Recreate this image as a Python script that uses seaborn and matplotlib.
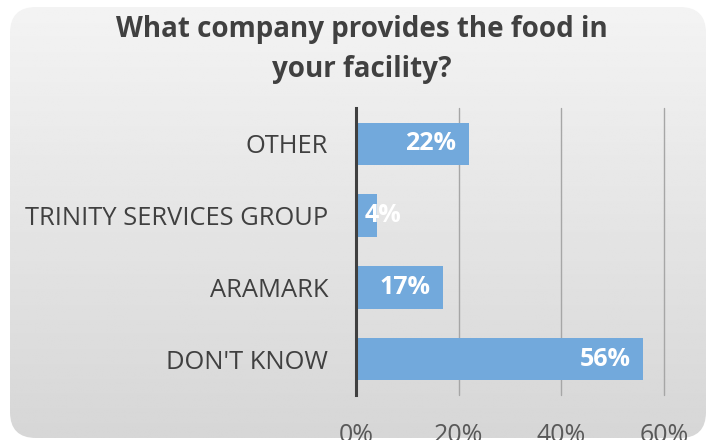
import numpy as np
import pandas as pd
import matplotlib
matplotlib.use("Agg")
import matplotlib.pyplot as plt
import seaborn as sns
from matplotlib.patches import FancyBboxPatch

categories = ["OTHER", "TRINITY SERVICES GROUP", "ARAMARK", "DON'T KNOW"]
values = [22, 4, 17, 56]
xticks = [0, 20, 40, 60]
xticklabels = ["0%", "20%", "40%", "60%"]
title = "What company provides the food in\nyour facility?"

sns.set_theme(style="white")
plt.rcParams['font.family'] = ['Open Sans', 'DejaVu Sans']

W, H = 712, 440
fig = plt.figure(figsize=(W / 100, H / 100), dpi=100)
fig.patch.set_facecolor("white")

# background rounded gradient panel
bg = fig.add_axes([0, 0, 1, 1])
bg.set_xlim(0, W)
bg.set_ylim(H, 0)
bg.axis("off")
grad = np.linspace(0.955, 0.84, 200)[:, None] * np.ones((1, 10))
im = bg.imshow(grad, cmap="gray", vmin=0, vmax=1, extent=[0, W, H, 0], aspect="auto")
panel = FancyBboxPatch((10, 7), 696, 431, boxstyle="round,pad=0,rounding_size=26",
                       transform=bg.transData, facecolor="none", edgecolor="none")
bg.add_patch(panel)
im.set_clip_path(panel)

df = pd.DataFrame({"category": categories, "value": values})

ax = fig.add_axes([356 / W, 1 - 395 / H, (664 - 356) / W, (395 - 108) / H])
ax.patch.set_alpha(0)
sns.barplot(data=df, x="value", y="category", orient="h", color="#72a9dc",
            saturation=1, width=0.59, linewidth=0, ax=ax)
ax.set_xlim(0, 60)
ax.set_xticks(xticks)
ax.set_xticklabels(xticklabels)
ax.set_xlabel("")
ax.set_ylabel("")
ax.grid(axis="x", color="#a6a6a6", linewidth=1)
for gl in ax.get_xgridlines():
    gl.set_clip_on(False)
ax.set_axisbelow(True)
for s in ["top", "right", "bottom"]:
    ax.spines[s].set_visible(False)
ax.spines["left"].set_color("#404040")
ax.spines["left"].set_linewidth(2.2)
ax.tick_params(axis="y", length=0, pad=20, labelsize=18.4, labelcolor="#404040")
ax.tick_params(axis="x", length=0, pad=20, labelsize=18, labelcolor="#595959")

for i, v in enumerate(values):
    if v >= 10:
        ax.annotate(f"{v}%", xy=(v, i), xytext=(-9, 0), textcoords="offset points",
                    ha="right", va="center", color="white", fontsize=18, fontweight="bold")
    else:
        ax.annotate(f"{v}%", xy=(0, i), xytext=(6, 0), textcoords="offset points",
                    ha="left", va="center", color="white", fontsize=18, fontweight="bold")

fig.text(362 / W, 1 - 49 / H, title, ha="center", va="center", fontsize=20,
         fontweight="bold", color="#404040", linespacing=1.5)

fig.savefig("out.png", dpi=100)
